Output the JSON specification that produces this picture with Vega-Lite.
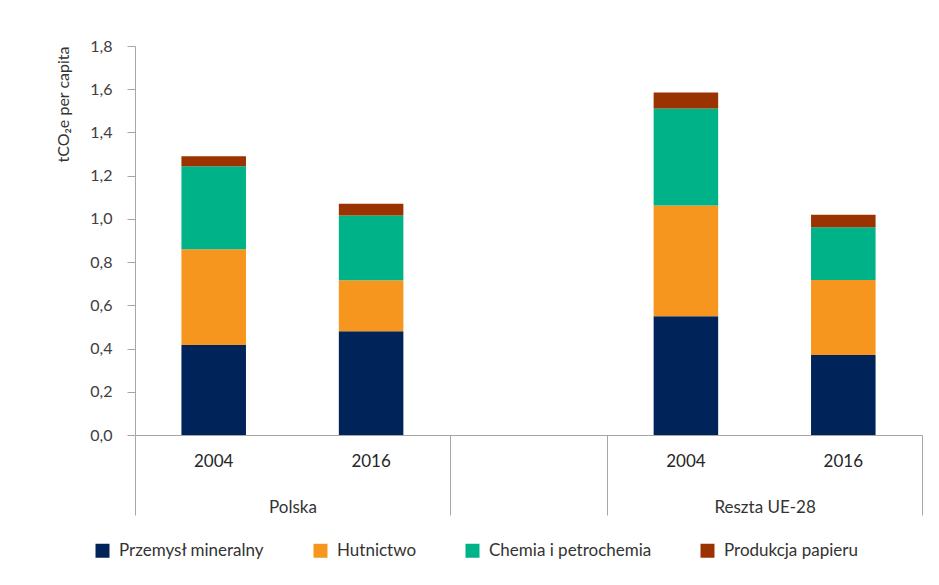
{
  "$schema": "https://vega.github.io/schema/vega-lite/v6.json",
  "autosize": {"type": "none"},
  "padding": {"left": 135, "top": 46, "right": 17, "bottom": 150},
  "width": 787,
  "height": 389,
  "background": "white",
  "config": {"font": "Lato", "view": {"stroke": null}},
  "data": {
    "values": [
      {"kolumna": "Polska 2004", "grupa": "Polska", "rok": "2004", "sektor": "Przemysł mineralny", "kolejnosc": 1, "wartosc": 0.416},
      {"kolumna": "Polska 2004", "grupa": "Polska", "rok": "2004", "sektor": "Hutnictwo", "kolejnosc": 2, "wartosc": 0.444},
      {"kolumna": "Polska 2004", "grupa": "Polska", "rok": "2004", "sektor": "Chemia i petrochemia", "kolejnosc": 3, "wartosc": 0.384},
      {"kolumna": "Polska 2004", "grupa": "Polska", "rok": "2004", "sektor": "Produkcja papieru", "kolejnosc": 4, "wartosc": 0.046},
      {"kolumna": "Polska 2016", "grupa": "Polska", "rok": "2016", "sektor": "Przemysł mineralny", "kolejnosc": 1, "wartosc": 0.48},
      {"kolumna": "Polska 2016", "grupa": "Polska", "rok": "2016", "sektor": "Hutnictwo", "kolejnosc": 2, "wartosc": 0.236},
      {"kolumna": "Polska 2016", "grupa": "Polska", "rok": "2016", "sektor": "Chemia i petrochemia", "kolejnosc": 3, "wartosc": 0.30},
      {"kolumna": "Polska 2016", "grupa": "Polska", "rok": "2016", "sektor": "Produkcja papieru", "kolejnosc": 4, "wartosc": 0.054},
      {"kolumna": "Reszta UE-28 2004", "grupa": "Reszta UE-28", "rok": "2004", "sektor": "Przemysł mineralny", "kolejnosc": 1, "wartosc": 0.55},
      {"kolumna": "Reszta UE-28 2004", "grupa": "Reszta UE-28", "rok": "2004", "sektor": "Hutnictwo", "kolejnosc": 2, "wartosc": 0.512},
      {"kolumna": "Reszta UE-28 2004", "grupa": "Reszta UE-28", "rok": "2004", "sektor": "Chemia i petrochemia", "kolejnosc": 3, "wartosc": 0.449},
      {"kolumna": "Reszta UE-28 2004", "grupa": "Reszta UE-28", "rok": "2004", "sektor": "Produkcja papieru", "kolejnosc": 4, "wartosc": 0.074},
      {"kolumna": "Reszta UE-28 2016", "grupa": "Reszta UE-28", "rok": "2016", "sektor": "Przemysł mineralny", "kolejnosc": 1, "wartosc": 0.37},
      {"kolumna": "Reszta UE-28 2016", "grupa": "Reszta UE-28", "rok": "2016", "sektor": "Hutnictwo", "kolejnosc": 2, "wartosc": 0.347},
      {"kolumna": "Reszta UE-28 2016", "grupa": "Reszta UE-28", "rok": "2016", "sektor": "Chemia i petrochemia", "kolejnosc": 3, "wartosc": 0.244},
      {"kolumna": "Reszta UE-28 2016", "grupa": "Reszta UE-28", "rok": "2016", "sektor": "Produkcja papieru", "kolejnosc": 4, "wartosc": 0.058}
    ]
  },
  "layer": [
    {
      "mark": {"type": "bar", "width": {"band": 0.41}},
      "encoding": {
        "x": {
          "field": "kolumna",
          "type": "nominal",
          "sort": null,
          "scale": {
            "domain": ["Polska 2004", "Polska 2016", " ", "Reszta UE-28 2004", "Reszta UE-28 2016"],
            "paddingInner": 0,
            "paddingOuter": 0
          },
          "axis": {
            "orient": "bottom",
            "title": null,
            "values": ["Polska 2004", "Polska 2016", "Reszta UE-28 2004", "Reszta UE-28 2016"],
            "labelExpr": "slice(datum.value, -4)",
            "labelAngle": 0,
            "ticks": false,
            "domain": true,
            "domainColor": "#a6a6a6",
            "labelFontSize": 17,
            "labelColor": "#262626",
            "labelPadding": 18
          }
        },
        "y": {
          "field": "wartosc",
          "type": "quantitative",
          "stack": "zero",
          "scale": {"domain": [0, 1.8], "nice": false},
          "axis": {
            "values": [0, 0.2, 0.4, 0.6, 0.8, 1.0, 1.2, 1.4, 1.6, 1.8],
            "labelExpr": "replace(format(datum.value, '.1f'), '.', ',')",
            "grid": false,
            "tickSize": 8,
            "tickColor": "#a6a6a6",
            "domainColor": "#a6a6a6",
            "labelFontSize": 16,
            "labelColor": "#404040",
            "labelPadding": 15,
            "title": "tCO₂e per capita",
            "titleAnchor": "end",
            "titleFontSize": 16,
            "titleFontWeight": "normal",
            "titleColor": "#333333",
            "titlePadding": 18
          }
        },
        "order": {"field": "kolejnosc", "type": "quantitative", "sort": "ascending"},
        "color": {
          "field": "sektor",
          "type": "nominal",
          "sort": ["Przemysł mineralny", "Hutnictwo", "Chemia i petrochemia", "Produkcja papieru"],
          "scale": {
            "domain": ["Przemysł mineralny", "Hutnictwo", "Chemia i petrochemia", "Produkcja papieru"],
            "range": ["#00245a", "#f7961e", "#00b288", "#9b3300"]
          },
          "legend": {
            "orient": "none",
            "legendX": -41,
            "legendY": 496,
            "direction": "horizontal",
            "title": null,
            "symbolType": "square",
            "symbolSize": 196,
            "symbolStrokeWidth": 0,
            "symbolOpacity": 1,
            "labelFontSize": 17,
            "labelColor": "#333333",
            "labelOffset": 8,
            "labelLimit": 400,
            "columnPadding": 47
          }
        }
      }
    },
    {
      "mark": {"type": "bar", "opacity": 0, "width": {"band": 0.41}},
      "encoding": {
        "x": {
          "field": "kolumna",
          "type": "nominal",
          "sort": null,
          "scale": {
            "domain": ["Polska 2004", "Polska 2016", " ", "Reszta UE-28 2004", "Reszta UE-28 2016"],
            "paddingInner": 0,
            "paddingOuter": 0
          },
          "axis": {
            "orient": "bottom",
            "title": null,
            "tickBand": "extent",
            "tickSize": 80,
            "tickColor": "#a6a6a6",
            "tickOpacity": {"condition": {"test": "datum.index == 0 || datum.index == 0.75", "value": 0}, "value": 1},
            "labelExpr": "datum.value == 'Polska 2016' ? 'Polska' : datum.value == 'Reszta UE-28 2016' ? 'Reszta UE-28' : ''",
            "labelOffset": -78.7,
            "labelPadding": -16,
            "labelAngle": 0,
            "labelFontSize": 17,
            "labelColor": "#333333",
            "domain": false
          }
        }
      }
    }
  ],
  "resolve": {"axis": {"x": "independent"}}
}
